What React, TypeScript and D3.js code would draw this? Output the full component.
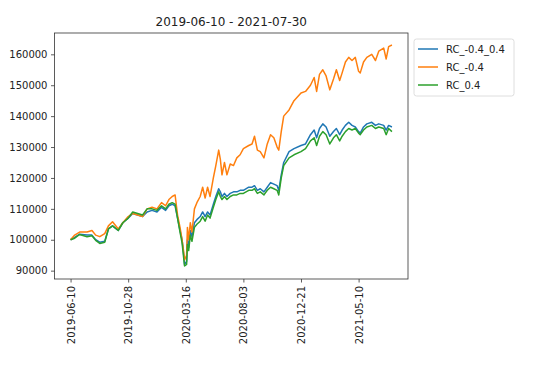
import React, { useEffect, useRef } from 'react'
import * as d3 from 'd3'

const title = '2019-06-10 - 2021-07-30'

const dates = [
  '2019-06-10', '2019-06-20', '2019-07-02', '2019-07-20', '2019-08-01', '2019-08-10', '2019-08-20', '2019-09-01', '2019-09-10', '2019-09-20',
  '2019-10-04', '2019-10-15', '2019-10-28', '2019-11-08', '2019-11-20', '2019-12-02', '2019-12-13', '2019-12-25', '2020-01-06', '2020-01-17',
  '2020-01-27', '2020-02-04', '2020-02-12', '2020-02-19', '2020-02-25', '2020-03-02', '2020-03-07', '2020-03-11', '2020-03-13', '2020-03-18',
  '2020-03-20', '2020-03-23', '2020-03-27', '2020-03-31', '2020-04-06', '2020-04-12', '2020-04-20', '2020-04-26', '2020-05-02', '2020-05-08',
  '2020-05-14', '2020-05-22', '2020-05-28', '2020-06-04', '2020-06-08', '2020-06-12', '2020-06-18', '2020-06-24', '2020-07-02', '2020-07-10',
  '2020-07-18', '2020-07-26', '2020-08-03', '2020-08-16', '2020-08-24', '2020-08-30', '2020-09-06', '2020-09-13', '2020-09-22', '2020-09-30',
  '2020-10-08', '2020-10-16', '2020-10-24', '2020-10-28', '2020-11-03', '2020-11-09', '2020-11-22', '2020-12-04', '2020-12-21', '2021-01-01',
  '2021-01-13', '2021-01-22', '2021-01-28', '2021-02-04', '2021-02-12', '2021-02-20', '2021-03-01', '2021-03-10', '2021-03-17', '2021-03-25',
  '2021-03-31', '2021-04-08', '2021-04-16', '2021-04-24', '2021-05-02', '2021-05-10', '2021-05-14', '2021-05-22', '2021-05-30', '2021-06-11',
  '2021-06-20', '2021-06-28', '2021-07-10', '2021-07-16', '2021-07-22', '2021-07-30',
]

// RC_-0.4_0.4
const rcBoth = [
  100000, 100800, 101800, 101500, 101500, 100000, 99200, 99500, 103500, 104500,
  103000, 105500, 107000, 108500, 108000, 107500, 109000, 109500, 109000, 110500,
  109500, 111000, 111500, 111000, 107000, 103000, 100000, 95000, 92000, 93000,
  100000, 97500, 103000, 101000, 105500, 106500, 107500, 109000, 107500, 109000,
  108000, 111500, 114000, 116500, 115500, 114000, 115000, 114000, 115000, 115500,
  115500, 116000, 116000, 117000, 117000, 117500, 116000, 116500, 115500, 117000,
  118500, 118000, 117500, 116000, 121000, 125000, 128500, 129500, 130500, 131000,
  134000, 135500, 133000, 136000, 137500, 136500, 133500, 135000, 136000, 134000,
  135500, 137000, 138000, 137000, 136500, 135000, 134500, 136500, 137500, 138000,
  137000, 137500, 137000, 135500, 137000, 136500,
]

// RC_-0.4
const rcNeg = [
  100000, 101500, 102500, 102500, 103000, 101500, 101000, 102000, 104500, 105800,
  103500, 105500, 107500, 108500, 108000, 107500, 110000, 110500, 110000, 112000,
  111000, 113000, 114000, 114500, 108000, 104000, 100000, 96000, 93500, 95000,
  104000, 100000, 105500, 102500, 110000, 112000, 114000, 117000, 113500, 117000,
  114000, 120000, 124000, 129000, 126000, 121000, 125000, 121000, 124500, 124000,
  126500, 127500, 129500, 130500, 131000, 133500, 129000, 128500, 126500, 131000,
  134000, 133000, 130000, 129000, 135000, 140000, 142000, 145000, 147500, 148000,
  150000, 152500, 148000, 153500, 155000, 153000, 148500, 152000, 155000, 151500,
  154000, 157500, 159000, 158000, 159000, 154500, 154000, 157500, 159000, 160000,
  158000, 161000, 162000, 158500, 162500, 163000,
]

// RC_0.4
const rcPos = [
  100000, 100500, 101700, 101000, 101300, 99800, 98800, 99200, 103500, 104500,
  103000, 105500, 107000, 109000, 108500, 108000, 110000, 110000, 109500, 111000,
  110000, 111500, 112000, 111500, 107000, 102500, 99000, 94000, 91500, 92000,
  98500, 96500, 101500, 99500, 104000, 105000, 106000, 107500, 106000, 108000,
  107000, 110500, 113000, 115500, 114000, 113000, 114000, 113000, 114000, 114500,
  114500, 115000, 115000, 116000, 116000, 116500, 115000, 115500, 114500, 116000,
  117000, 116500, 116000, 114500, 120000, 124000, 126500, 127500, 128500, 129500,
  132000, 133000, 130500, 133500, 135000, 134000, 131000, 133000, 134000, 132000,
  133500, 135000, 136000, 135500, 136000, 134500, 134000, 135500, 136500, 137000,
  136000, 136500, 136000, 134000, 136000, 135000,
]

const seriesNames = ['RC_-0.4_0.4', 'RC_-0.4', 'RC_0.4']
const seriesValues = [rcBoth, rcNeg, rcPos]
const seriesColors = ['#1f77b4', '#ff7f0e', '#2ca02c']

const xTickLabels = ['2019-06-10', '2019-10-28', '2020-03-16', '2020-08-03', '2020-12-21', '2021-05-10']
const yTickValues = [90000, 100000, 110000, 120000, 130000, 140000, 150000, 160000]

const App = () => {
  const ref = useRef<SVGSVGElement>(null)

  useEffect(() => {
    const svg = d3.select(ref.current)
    svg.selectAll('*').remove()

    const margin = { top: 33, right: 149, bottom: 88, left: 54.5 }
    const width = 557
    const height = 367
    const font = 'DejaVu Sans, sans-serif'

    const parse = d3.utcParse('%Y-%m-%d')
    const xs = dates.map((d) => parse(d) as Date)

    // matplotlib style 5% padding around the data
    const [x0, x1] = d3.extent(xs) as [Date, Date]
    const pad = (x1.getTime() - x0.getTime()) * 0.05
    const x = d3
      .scaleUtc()
      .domain([new Date(x0.getTime() - pad), new Date(x1.getTime() + pad)])
      .range([margin.left, width - margin.right])

    const y = d3
      .scaleLinear()
      .domain([87300, 166900])
      .range([height - margin.bottom, margin.top])

    const line = d3
      .line<number>()
      .x((_, i) => x(xs[i]))
      .y((d) => y(d))

    svg
      .append('g')
      .selectAll('path')
      .data(seriesValues)
      .join('path')
      .attr('d', (d) => line(d))
      .attr('fill', 'none')
      .attr('stroke', (_, i) => seriesColors[i])
      .attr('stroke-width', 1.5)
      .attr('stroke-linejoin', 'round')

    // frame
    svg
      .append('rect')
      .attr('x', margin.left)
      .attr('y', margin.top)
      .attr('width', width - margin.right - margin.left)
      .attr('height', height - margin.bottom - margin.top)
      .attr('fill', 'none')
      .attr('stroke', '#333')
      .attr('stroke-width', 0.8)

    const xAxis = svg
      .append('g')
      .attr('transform', `translate(0,${height - margin.bottom})`)
      .call(
        d3
          .axisBottom(x)
          .tickValues(xTickLabels.map((d) => parse(d) as Date))
          .tickFormat(d3.utcFormat('%Y-%m-%d') as any)
          .tickSizeInner(3.5)
          .tickSizeOuter(0)
          .tickPadding(3.5)
      )
    xAxis.select('.domain').remove()
    xAxis.selectAll('line').attr('stroke', '#333').attr('stroke-width', 0.8)
    xAxis
      .selectAll('text')
      .attr('font-family', font)
      .attr('font-size', 10)
      .attr('fill', '#222')
      .attr('transform', 'rotate(-90)')
      .attr('x', -7)
      .attr('y', 0)
      .attr('dy', '0.35em')
      .style('text-anchor', 'end')

    const yAxis = svg
      .append('g')
      .attr('transform', `translate(${margin.left},0)`)
      .call(
        d3
          .axisLeft(y)
          .tickValues(yTickValues)
          .tickFormat(d3.format('d') as any)
          .tickSizeInner(3.5)
          .tickSizeOuter(0)
          .tickPadding(3.5)
      )
    yAxis.select('.domain').remove()
    yAxis.selectAll('line').attr('stroke', '#333').attr('stroke-width', 0.8)
    yAxis
      .selectAll('text')
      .attr('font-family', font)
      .attr('font-size', 10)
      .attr('fill', '#222')

    svg
      .append('text')
      .attr('x', (margin.left + width - margin.right) / 2)
      .attr('y', 26)
      .attr('text-anchor', 'middle')
      .attr('font-family', font)
      .attr('font-size', 12)
      .attr('fill', '#222')
      .text(title)

    // legend
    const lg = svg.append('g').attr('transform', 'translate(414,39)')
    lg.append('rect')
      .attr('width', 100)
      .attr('height', 57)
      .attr('rx', 2.5)
      .attr('fill', 'white')
      .attr('stroke', '#d6d6d6')
      .attr('stroke-width', 0.8)
    const rows = lg
      .selectAll('g.row')
      .data(seriesNames)
      .join('g')
      .attr('class', 'row')
      .attr('transform', (_, i) => `translate(0,${10 + i * 18})`)
    rows
      .append('line')
      .attr('x1', 4)
      .attr('x2', 24)
      .attr('stroke', (_, i) => seriesColors[i])
      .attr('stroke-width', 1.5)
    rows
      .append('text')
      .attr('x', 32)
      .attr('dy', '0.35em')
      .attr('font-family', font)
      .attr('font-size', 10)
      .attr('fill', '#222')
      .text((d) => d)
  }, [])

  return (
    <svg
      ref={ref}
      width={557}
      height={367}
      style={{ position: 'absolute', left: 0, top: 0, background: 'white' }}
    ></svg>
  )
}

export default App
